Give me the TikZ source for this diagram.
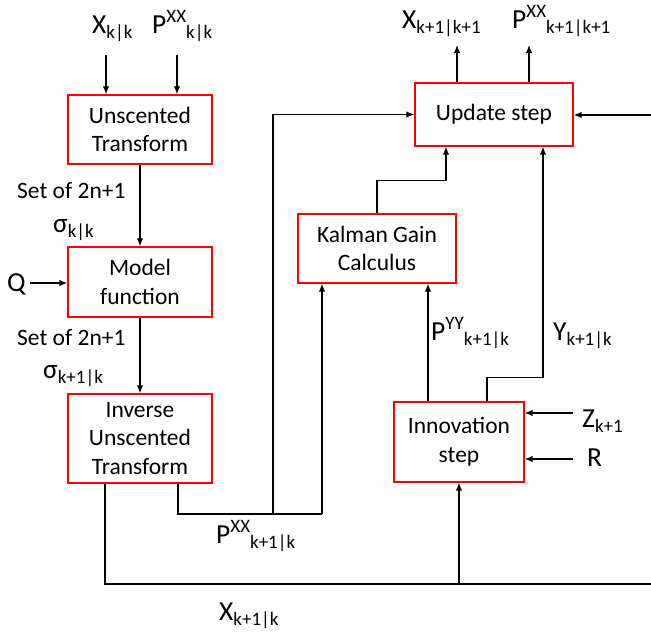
\documentclass[tikz,border=0pt]{standalone}
\usepackage{fontspec}
\setmainfont{Carlito}
\usetikzlibrary{arrows.meta, positioning}
\newcommand{\subtxt}[1]{\raisebox{-5pt}{\fontsize{19}{19}\selectfont #1}}
\newcommand{\suptxt}[1]{\raisebox{11pt}{\fontsize{19}{19}\selectfont #1}}

\begin{document}
\begin{tikzpicture}[
    x=1pt, y=-1pt,
    block/.style={
        rectangle,
        draw=red,
        line width=1.3pt,
        align=center,
        inner sep=0pt,
        font=\fontsize{23.5}{28.5}\selectfont
    },
    var/.style={anchor=base west, inner sep=0pt, font=\fontsize{27.5}{30}\selectfont},
    note/.style={anchor=base west, inner sep=0pt, font=\fontsize{23.5}{28}\selectfont},
    arrow/.style={-{Latex[length=8pt,width=6.5pt]}, line width=1.2pt},
    wire/.style={line width=1.2pt}
]
\useasboundingbox (0,0) rectangle (651,632);

\node[block, minimum width=144pt, minimum height=69pt] (ut) at (140,129.5) {Unscented\\Transform};
\node[block, minimum width=144pt, minimum height=70pt] (model) at (140,282) {Model\\function};
\node[block, minimum width=144pt, minimum height=89pt] (iut) at (140,438.5) {Inverse\\Unscented\\Transform};
\node[block, minimum width=158pt, minimum height=63pt] (update) at (494,114.5) {Update step};
\node[block, minimum width=158pt, minimum height=69pt] (kalman) at (377,248.5) {Kalman Gain\\Calculus};
\node[block, minimum width=130pt, minimum height=80pt] (innov) at (459,442) {Innovation\\step};

\node[var] (xkk) at (92,33) {X\subtxt{k|k}};
\node[var] (pkk) at (152,33) {P\suptxt{XX}\subtxt{k|k}};
\node[var] (xout) at (402,28) {X\subtxt{k+1|k+1}};
\node[var] (pout) at (512,28) {P\suptxt{XX}\subtxt{k+1|k+1}};
\node[note] (set1) at (17,198) {Set of 2n+1};
\node[var] (sig1) at (53,232) {σ\subtxt{k|k}};
\node[note] (set2) at (17,345) {Set of 2n+1};
\node[var] (sig2) at (43,378) {σ\subtxt{k+1|k}};
\node[var] (q) at (7,291) {Q};
\node[var] (pyy) at (431,340) {P\suptxt{YY}\subtxt{k+1|k}};
\node[var] (ykk) at (553,340) {Y\subtxt{k+1|k}};
\node[var] (z) at (582,427) {Z\subtxt{k+1}};
\node[var] (r) at (587,466) {R};
\node[var] (pxx) at (216,543) {P\suptxt{XX}\subtxt{k+1|k}};
\node[var] (xpred) at (219,620) {X\subtxt{k+1|k}};

\coordinate (xkk-in) at (106,55);
\coordinate (pkk-in) at (177,55);
\coordinate (q-in) at (30,283);
\coordinate (xo) at (457,45);
\coordinate (po) at (529,45);
\coordinate (ur) at (651,115);
\coordinate (za) at (573,413);
\coordinate (ra) at (573,459);
\coordinate (xb) at (105,584);
\coordinate (xr) at (651,584);
\coordinate (pj) at (273,514);
\coordinate (pk) at (322,514);

\draw[arrow] (xkk-in) -- (xkk-in |- ut.north);
\draw[arrow] (pkk-in) -- (pkk-in |- ut.north);
\draw[arrow] (ut) -- (model);
\draw[arrow] (model) -- (iut);
\draw[arrow] (q-in) -- (q-in -| model.west);

\draw[wire] (iut.south -| xb) -- (xb) -- (xr);
\draw[arrow] (xb -| innov.south) -- (innov.south);
\draw[wire] ([xshift=38pt]iut.south) |- (pk);
\draw[arrow] (pk) -- (pk |- kalman.south);
\draw[arrow] (pj) |- (update.west);

\draw[arrow] (kalman.north) -- ++(0,-33) -| ([xshift=-48pt]update.south);
\draw[arrow] ([xshift=-31pt]innov.north) -- ([xshift=-31pt]innov.north |- kalman.south);
\draw[arrow] ([xshift=28pt]innov.north) -- ++(0,-24) -| ([xshift=49pt]update.south);

\draw[arrow] (update.north -| xo) -- (xo);
\draw[arrow] (update.north -| po) -- (po);
\draw[arrow] (ur) -- (ur -| update.east);
\draw[arrow] (za) -- (za -| innov.east);
\draw[arrow] (ra) -- (ra -| innov.east);

\end{tikzpicture}
\end{document}
